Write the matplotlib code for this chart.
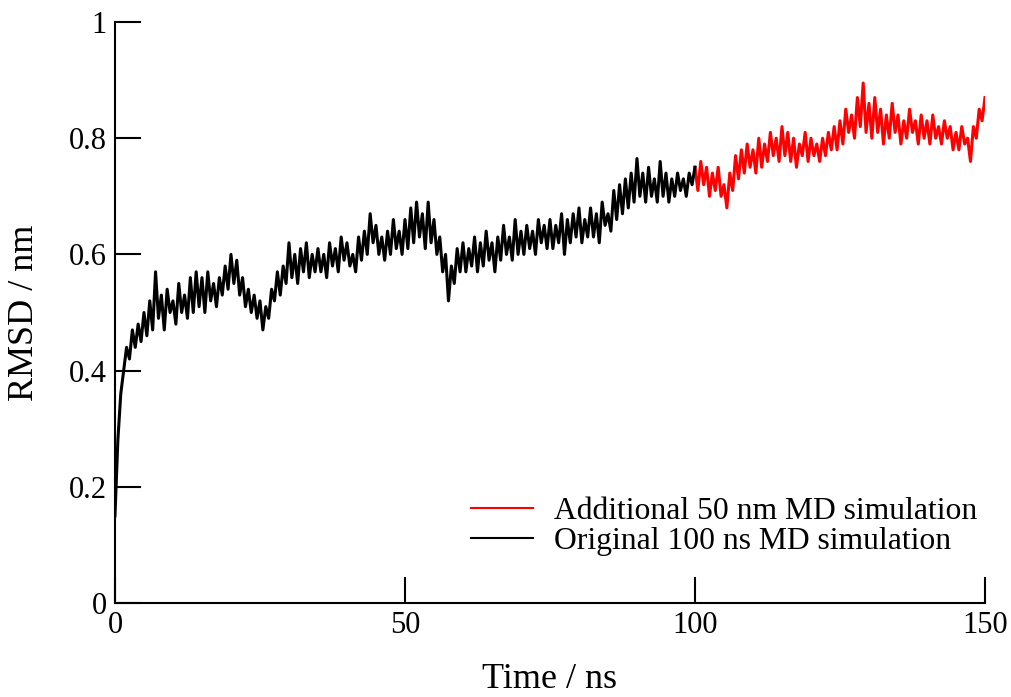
import numpy as np
import matplotlib
matplotlib.use("Agg")
import matplotlib.pyplot as plt

# RMSD values, every 0.5 ns
orig_rmsd = [
    0.15, 0.28, 0.36, 0.40, 0.44, 0.42, 0.47, 0.44, 0.48, 0.45,
    0.50, 0.46, 0.52, 0.47, 0.57, 0.49, 0.53, 0.47, 0.54, 0.50,
    0.52, 0.48, 0.55, 0.50, 0.53, 0.49, 0.56, 0.50, 0.57, 0.51,
    0.56, 0.50, 0.57, 0.52, 0.55, 0.51, 0.56, 0.53, 0.58, 0.54,
    0.60, 0.55, 0.59, 0.53, 0.56, 0.51, 0.54, 0.50, 0.53, 0.49,
    0.52, 0.47, 0.51, 0.49, 0.54, 0.52, 0.57, 0.53, 0.58, 0.55,
    0.62, 0.56, 0.60, 0.55, 0.61, 0.57, 0.62, 0.56, 0.60, 0.57,
    0.61, 0.57, 0.60, 0.56, 0.62, 0.58, 0.61, 0.57, 0.63, 0.59,
    0.62, 0.58, 0.60, 0.57, 0.63, 0.59, 0.64, 0.60, 0.67, 0.62,
    0.65, 0.60, 0.63, 0.59, 0.64, 0.60, 0.66, 0.61, 0.64, 0.60,
    0.66, 0.61, 0.68, 0.62, 0.69, 0.63, 0.67, 0.61, 0.69, 0.62,
    0.66, 0.60, 0.63, 0.57, 0.60, 0.52, 0.58, 0.55, 0.61, 0.57,
    0.62, 0.57, 0.61, 0.58, 0.63, 0.57, 0.62, 0.58, 0.64, 0.59,
    0.62, 0.57, 0.63, 0.59, 0.65, 0.60, 0.63, 0.59, 0.66, 0.60,
    0.64, 0.60, 0.65, 0.61, 0.64, 0.60, 0.66, 0.62, 0.65, 0.61,
    0.66, 0.61, 0.65, 0.62, 0.67, 0.60, 0.66, 0.62, 0.67, 0.63,
    0.68, 0.62, 0.66, 0.63, 0.68, 0.63, 0.67, 0.62, 0.69, 0.65,
    0.67, 0.64, 0.71, 0.66, 0.72, 0.67, 0.73, 0.68, 0.74, 0.69,
    0.765, 0.70, 0.74, 0.69, 0.75, 0.70, 0.73, 0.69, 0.76, 0.70,
    0.74, 0.69, 0.73, 0.70, 0.74, 0.71, 0.73, 0.70, 0.74, 0.72,
    0.75,
]
extra_rmsd = [
    0.75, 0.71, 0.76, 0.72, 0.75, 0.70, 0.74, 0.71, 0.75, 0.70,
    0.72, 0.68, 0.74, 0.71, 0.77, 0.73, 0.78, 0.74, 0.79, 0.75,
    0.78, 0.74, 0.80, 0.75, 0.79, 0.76, 0.81, 0.77, 0.80, 0.76,
    0.82, 0.77, 0.81, 0.76, 0.80, 0.75, 0.79, 0.77, 0.81, 0.76,
    0.80, 0.77, 0.79, 0.76, 0.80, 0.77, 0.81, 0.78, 0.82, 0.78,
    0.83, 0.79, 0.85, 0.81, 0.84, 0.80, 0.87, 0.82, 0.895, 0.81,
    0.86, 0.80, 0.87, 0.81, 0.85, 0.79, 0.84, 0.80, 0.86, 0.81,
    0.84, 0.79, 0.83, 0.80, 0.85, 0.81, 0.83, 0.79, 0.84, 0.80,
    0.83, 0.79, 0.84, 0.80, 0.82, 0.79, 0.83, 0.80, 0.82, 0.78,
    0.81, 0.78, 0.82, 0.79, 0.80, 0.76, 0.82, 0.80, 0.85, 0.83,
    0.87,
]
orig_time = np.arange(len(orig_rmsd)) * 0.5
extra_time = 100 + np.arange(len(extra_rmsd)) * 0.5

x_ticks = [0, 50, 100, 150]
y_ticks = [0, 0.2, 0.4, 0.6, 0.8, 1.0]
y_labels = ["0", "0.2", "0.4", "0.6", "0.8", "1"]

plt.rcParams["font.family"] = ["Liberation Serif", "DejaVu Serif"]

fig = plt.figure(figsize=(10.12, 6.97), dpi=100)
ax = fig.add_axes([0.1136, 0.1349, 0.8597, 0.8335])

ax.plot(extra_time, extra_rmsd, color="red", lw=2.2,
        label="Additional 50 nm MD simulation")
ax.plot(orig_time, orig_rmsd, color="black", lw=2.2,
        label="Original 100 ns MD simulation")

ax.set_xlim(0, 150)
ax.set_ylim(0, 1)
ax.set_xticks(x_ticks)
ax.set_xticklabels([str(t) for t in x_ticks])
ax.set_yticks(y_ticks)
ax.set_yticklabels(y_labels)

for side in ["top", "right"]:
    ax.spines[side].set_visible(False)
for side in ["left", "bottom"]:
    ax.spines[side].set_linewidth(1.5)
ax.tick_params(direction="in", length=19, width=1.5, labelsize=22, pad=6)

ax.set_xlabel("Time / ns", fontsize=26, labelpad=16)
ax.set_ylabel("RMSD / nm", fontsize=26, labelpad=20)

leg = ax.legend(loc="lower left", bbox_to_anchor=(0.391, 0.054), frameon=False,
                fontsize=22.8, handlelength=1.95, handletextpad=0.68,
                borderpad=0, labelspacing=0.02)
for line in leg.get_lines():
    line.set_linewidth(1.5)

fig.savefig("out.png", dpi=100)
